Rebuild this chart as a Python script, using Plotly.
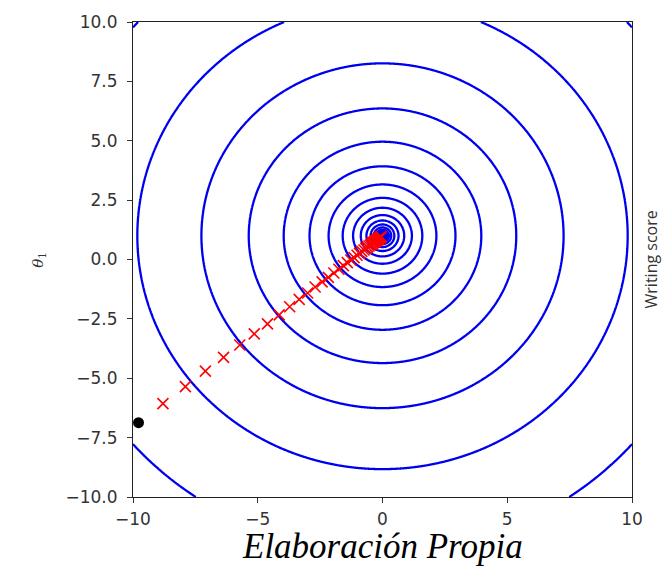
import numpy as np
import plotly.graph_objects as go

# --- data ---
center = [0.0, 1.0]                 # minimum of the cost surface (theta0, theta1)
cost_scale = 5.65                   # J = scale * ((t0-c0)^2 + (t1-c1)^2)
level_min, level_max, n_levels = 0.01, 1000.0, 20   # log-spaced contour levels

start_point = [-9.78, -6.87]        # black dot (initial guess)

path_t0 = [-8.80, -7.90, -7.10, -6.37, -5.72, -5.14, -4.61, -4.14, -3.72, -3.34,
           -3.00, -2.70, -2.42, -2.17, -1.95, -1.75, -1.57, -1.41, -1.27, -1.14,
           -1.02, -0.92, -0.83, -0.74, -0.67, -0.60, -0.54, -0.48, -0.43, -0.39,
           -0.35, -0.31, -0.28, -0.25, -0.23, -0.20, -0.18, -0.16, -0.15, -0.13,
           -0.11, -0.09, -0.07, -0.06, -0.05]
path_t1 = [-6.07, -5.35, -4.70, -4.12, -3.60, -3.13, -2.71, -2.33, -1.99, -1.68,
           -1.41, -1.16, -0.94, -0.75, -0.57, -0.41, -0.26, -0.13, -0.02, 0.08,
           0.18, 0.26, 0.34, 0.40, 0.47, 0.52, 0.57, 0.61, 0.65, 0.69,
           0.72, 0.75, 0.77, 0.80, 0.82, 0.84, 0.85, 0.87, 0.88, 0.89,
           0.91, 0.93, 0.94, 0.96, 0.96]

x_ticks = [-10, -5, 0, 5, 10]
y_ticks = [-10.0, -7.5, -5.0, -2.5, 0.0, 2.5, 5.0, 7.5, 10.0]

# --- cost surface ---
g0 = np.linspace(-10, 10, 601)
g1 = np.linspace(-10, 10, 601)
T0, T1 = np.meshgrid(g0, g1)
J = cost_scale * ((T0 - center[0]) ** 2 + (T1 - center[1]) ** 2) + 1e-12
Z = np.log10(J)
lmin, lmax = np.log10(level_min), np.log10(level_max)
step = (lmax - lmin) / (n_levels - 1)

fig = go.Figure()
fig.add_trace(go.Contour(
    x=g0, y=g1, z=Z,
    contours=dict(coloring="lines", start=lmin, end=lmax + 1e-9, size=step),
    colorscale=[[0, "#0000f0"], [1, "#0000f0"]],
    line=dict(width=2.3, smoothing=1.0),
    showscale=False, hoverinfo="skip",
))
fig.add_trace(go.Scatter(
    x=path_t0, y=path_t1, mode="markers",
    marker=dict(symbol="x-thin", size=11, color="red",
                line=dict(color="red", width=1.6)),
    showlegend=False,
))
fig.add_trace(go.Scatter(
    x=[start_point[0]], y=[start_point[1]], mode="markers",
    marker=dict(symbol="circle", size=11, color="black"),
    showlegend=False, cliponaxis=False,
))

axis_common = dict(
    showgrid=False, zeroline=False, showline=True, linecolor="#222",
    linewidth=1.2, mirror=True, ticks="outside", ticklen=5, tickwidth=1.2,
    tickcolor="#333", ticklabelstandoff=6,
    tickfont=dict(family="DejaVu Sans", size=17, color="#333"),
)
fig.update_xaxes(range=[-10, 10], tickvals=x_ticks,
                 ticktext=[("\u2212" + str(abs(v))) if v < 0 else str(v) for v in x_ticks],
                 **axis_common)
fig.update_yaxes(range=[-10, 10], tickvals=y_ticks,
                 ticktext=[("\u2212" if v < 0 else "") + f"{abs(v):.1f}" for v in y_ticks],
                 **axis_common)
fig.update_xaxes(ticklabelstandoff=1)

fig.update_layout(
    width=662, height=566,
    margin=dict(l=133, r=30, t=18, b=69),
    paper_bgcolor="white", plot_bgcolor="white",
    showlegend=False,
    annotations=[
        dict(text="<i>θ</i><sub>1</sub>", xref="paper", yref="paper",
             x=-0.19, y=0.5, xanchor="center", yanchor="middle",
             textangle=-90, showarrow=False,
             font=dict(family="DejaVu Serif", size=15, color="#333")),
        dict(text="Writing score", xref="paper", yref="paper",
             x=1.038, y=0.5, xanchor="center", yanchor="middle",
             textangle=-90, showarrow=False,
             font=dict(family="Open Sans", size=16, color="#333")),
        dict(text="<i>Elaboración Propia</i>", xref="paper", yref="paper",
             x=0.5, y=-0.104, xanchor="center", yanchor="middle",
             showarrow=False,
             font=dict(family="Liberation Serif", size=35, color="black")),
    ],
)

fig.write_html("out.html")
